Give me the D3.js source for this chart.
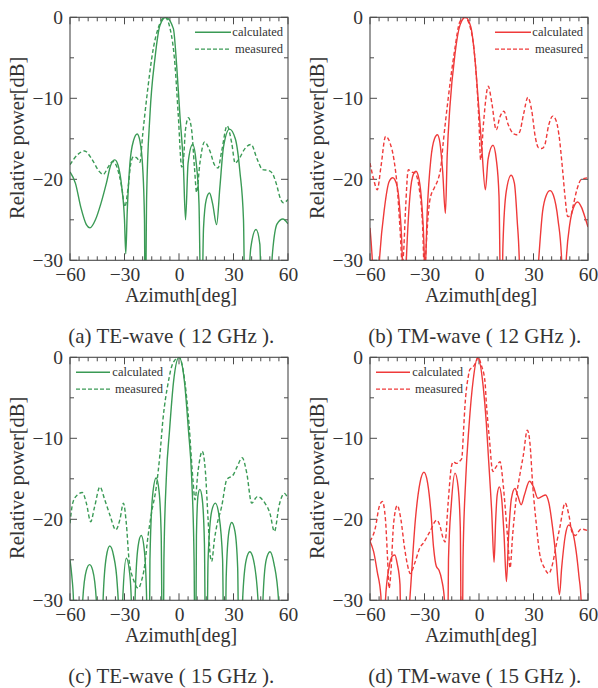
<!DOCTYPE html>
<html><head><meta charset="utf-8">
<script src="https://cdn.jsdelivr.net/npm/d3@7"></script>
<style>
body{margin:0;background:#fff;}
svg{display:block;}
text{font-family:"Liberation Serif","Times New Roman",serif;fill:#333;}
</style></head>
<body><svg id="c" width="598" height="688"></svg>
<script>
// ---- data: [azimuth deg, relative power dB] ----
const teCalc12 = [[-60,-19.1],[-57,-20.5],[-54,-23.5],[-51,-25.6],[-49,-26],[-46,-25],[-43,-23],[-40,-20.5],[-37.5,-18.2],[-35.3,-17.6],[-33.5,-18.3],[-31.5,-21],[-30,-25],[-29.3,-29.2],[-28.5,-24],[-27,-18],[-25,-15.2],[-23,-14.4],[-21.5,-15.3],[-20,-18.5],[-19,-25],[-18.6,-40],[-17.8,-22],[-16,-12.1],[-13.2,-5],[-10.5,-1],[-7.3,0],[-3.1,-1.4],[-1.3,-5.9],[0.5,-12.1],[2.4,-18.2],[3.6,-25],[5,-18],[7.5,-15.7],[9.5,-18],[11,-23],[12.3,-40],[13.5,-26],[15,-22.5],[16.8,-21.7],[18.5,-23],[20.7,-25.6],[22.5,-21],[24.5,-16],[27.8,-13.8],[31,-15],[33.5,-19],[35.5,-25],[36.5,-40],[39.5,-28.5],[42.4,-26.2],[44.5,-28],[45.8,-40],[49.5,-36],[51.5,-29],[54,-25.5],[57.2,-24.9],[60,-25.5]];
const teMeas12 = [[-60,-18.2],[-56,-17],[-52,-16.5],[-48,-17.5],[-44,-19],[-41.7,-19.4],[-39,-18.5],[-36.5,-17.8],[-34,-18.6],[-31.5,-21],[-29.8,-23.4],[-28,-21],[-26.5,-18],[-25,-17.2],[-23,-17.4],[-21.5,-17.9],[-20,-14.5],[-17.8,-10],[-14.1,-3.8],[-11.4,-1.3],[-7.7,0],[-5,-1.3],[-2.2,-5.9],[-0.4,-12.1],[1.5,-18.5],[2.5,-17.5],[3.5,-14],[5.2,-12.4],[7,-14],[8.5,-18.5],[9.7,-21.6],[11.5,-18],[14,-15.4],[17,-16.5],[19.5,-18.2],[21.5,-18.6],[23.5,-16.5],[26.5,-13.4],[29,-15.5],[30.9,-18],[33,-17.5],[36,-16.3],[39.7,-15.7],[43,-17.5],[46,-18.8],[49,-18.9],[51.2,-19.2],[53.5,-20.5],[56,-22.5],[57.5,-22.9],[60,-22.5]];
const tmCalc12 = [[-60,-26],[-58.6,-30.5],[-57,-40],[-54.8,-30],[-52,-23.5],[-49.5,-20.3],[-47.5,-19.8],[-45.5,-20.5],[-43.5,-24],[-42.2,-30],[-41.5,-40],[-40,-30],[-38,-22],[-36,-19.3],[-34.7,-19],[-33,-20],[-31.5,-23],[-30.3,-28],[-29.8,-32],[-28.5,-24],[-26.5,-17.5],[-24.5,-15],[-22.9,-14.5],[-21.5,-15.5],[-20,-19],[-18.5,-24.2],[-17.5,-17],[-16,-11],[-13.2,-4.5],[-10.5,-1],[-7.5,0],[-4.5,-1.2],[-2.5,-4.5],[-0.5,-10],[1.5,-16],[3.5,-21.3],[5,-17.5],[7.7,-15.8],[9.5,-17.5],[11,-22],[12.2,-40],[13.2,-28],[15,-21.5],[17.7,-19.5],[19.5,-20.5],[21,-25],[22.3,-31],[23,-40],[28,-45],[32.5,-31],[35,-24],[37,-22],[39.1,-21.4],[41,-22],[43.5,-25],[45.5,-30],[46.2,-40],[48,-30],[50,-25.5],[52,-23.5],[54.3,-22.8],[56.5,-23.5],[58.5,-24.8],[60,-25.9]];
const tmMeas12 = [[-60,-18],[-58,-20],[-56,-21.3],[-54,-18.5],[-51.4,-14.7],[-49,-15.5],[-46.8,-17.6],[-45,-21],[-43.5,-26],[-42.2,-30.5],[-41.5,-29],[-40.5,-24],[-38.9,-18.8],[-37,-19.1],[-35.3,-19.2],[-33,-21],[-31,-26],[-30,-32],[-29.5,-30],[-28,-24.5],[-27,-22.5],[-24.5,-21],[-22.5,-20],[-21,-18.5],[-19.7,-15.5],[-17,-10.1],[-13.3,-3.9],[-10.6,-0.6],[-7.9,0],[-4.2,-1.8],[-1.5,-7.2],[0,-13],[0.9,-17.6],[2.5,-13],[5.1,-8.5],[7,-10.5],[9.5,-13.9],[11.5,-12.3],[13.7,-11.6],[16,-13.2],[18.6,-14.3],[20.5,-14.5],[22.3,-14.2],[24.5,-12],[26.9,-9.9],[29,-11.5],[31,-14.8],[32.7,-16.1],[34.5,-16.2],[36,-15.9],[38.5,-13.2],[40.6,-12.2],[42.5,-12.8],[44,-14.5],[46,-18.8],[47.5,-22.5],[48.8,-24.6],[50.5,-24.5],[51.5,-23.6],[54,-21.2],[56.3,-20],[58,-19.9],[60,-19.8]];
const teCalc15 = [[-60,-25],[-59,-27],[-58,-30.5],[-57,-45],[-55.5,-45],[-53,-30],[-51,-26.3],[-49.2,-25.6],[-47.5,-26.3],[-45.5,-30],[-44,-45],[-43,-45],[-41.8,-30],[-40,-24.6],[-38.1,-23.3],[-36,-24.5],[-34,-28],[-33,-33],[-32.5,-45],[-32.3,-45],[-31,-30],[-29,-24.8],[-27,-27],[-26,-32],[-25.3,-45],[-25,-45],[-24.2,-30],[-22.5,-23.3],[-20.8,-22],[-19,-24],[-17.8,-30],[-17,-45],[-16.6,-45],[-16,-25],[-14.5,-17],[-12.6,-14.9],[-11,-16.5],[-9.8,-22],[-8.9,-45],[-8.3,-25],[-7,-15],[-5.2,-9],[-3,-3],[0,0],[3,-3],[5.2,-9],[7,-15],[8.3,-25],[9,-45],[9.6,-22],[10.5,-17],[11.5,-16.3],[12.8,-17.5],[14,-23],[14.9,-45],[15,-45],[16,-25],[18,-19],[20,-18],[22,-19.5],[24,-25],[25,-45],[25.1,-45],[26,-27],[27.5,-21.5],[29,-20.4],[30.8,-21.5],[32.3,-26],[33.3,-45],[33.8,-45],[35,-30],[37,-25],[39,-24],[41,-25],[43.5,-30],[44.5,-45],[45,-45],[46.2,-30],[48,-25],[50.1,-24],[52.3,-25.5],[54.8,-30],[55.8,-45],[60,-45]];
const teMeas15 = [[-60,-20.5],[-58.5,-18],[-56,-17],[-53.2,-16.7],[-51,-18],[-48.6,-20.3],[-46.5,-18.5],[-43.5,-16],[-41,-17.5],[-38,-19.5],[-34.8,-21.3],[-32.5,-20],[-30.6,-18],[-29,-20.5],[-27.5,-25],[-25,-27.5],[-22.4,-28.5],[-20.5,-27.5],[-19.3,-26.3],[-17,-22],[-15.2,-19.3],[-12.5,-16],[-10.5,-12],[-8.8,-7.6],[-6,-3.2],[-3.3,-0.7],[0,0],[3.1,-2.8],[5.5,-8.2],[7.7,-15.2],[8.8,-17.6],[10.5,-14],[12.8,-11.6],[14.5,-14],[16,-20],[17.2,-24.5],[18,-25.2],[19.5,-22.5],[20.7,-20.9],[23.5,-18.4],[26.3,-15.1],[29.9,-14.5],[32,-13.5],[34.8,-12.4],[37.3,-14.3],[40,-18],[43.1,-17.2],[47.3,-18],[50.1,-19.3],[52.5,-21.5],[55.2,-18.2],[58,-16.8],[60,-17.5]];
const tmCalc15 = [[-60,-22.7],[-58,-24],[-56,-26.5],[-54,-29.5],[-53,-45],[-51.5,-30],[-49.5,-25.9],[-47.5,-24.5],[-46.3,-24.4],[-45,-25.5],[-43.5,-28],[-42.5,-45],[-42,-45],[-39,-33],[-37.5,-28],[-35,-20],[-32.5,-15.5],[-30.3,-14.2],[-28.3,-15.5],[-26.5,-19],[-25,-23.5],[-23.5,-25.8],[-22,-26.3],[-20.5,-27.5],[-19,-30],[-18,-45],[-17.6,-45],[-16.8,-25],[-15.2,-18],[-13.2,-14.3],[-11.5,-16],[-10.3,-21],[-9.5,-45],[-8.8,-25],[-7.3,-15],[-5.5,-8.5],[-3.2,-2.8],[-0.7,0],[2.4,-3.8],[4,-8],[5.1,-12],[7,-19.1],[8.3,-25.3],[9.2,-20],[10,-17],[11.2,-16],[12.5,-17.5],[13.8,-22],[15.1,-27.7],[16.3,-22],[17.8,-17.5],[19.8,-16.2],[21.5,-17.2],[23.2,-18.2],[25,-17],[27.8,-15.3],[30,-16],[32.4,-17.4],[34.5,-17.2],[36.6,-17],[38.5,-18],[40.5,-21],[42.5,-25],[44.3,-29.3],[45.5,-26],[47.5,-22],[49.4,-20.7],[51.5,-21.5],[53.5,-24],[55,-27],[56.2,-30],[57,-45],[60,-45]];
const tmMeas15 = [[-60,-22.7],[-57,-21],[-55,-18.5],[-53.2,-17.8],[-51.5,-20],[-50.3,-25],[-49.5,-28.5],[-48.5,-26.5],[-47,-20.5],[-45,-18.3],[-43,-20],[-41,-23.5],[-39.5,-25.5],[-37.8,-26.7],[-35.5,-25.5],[-32.5,-23.5],[-30.5,-22.9],[-27,-21.5],[-23.3,-20.1],[-21.5,-20.8],[-19.8,-22.3],[-18.7,-22.8],[-17,-18],[-15.2,-13.5],[-14.1,-12.9],[-12.4,-13.1],[-10.5,-12.8],[-9.5,-12.5],[-8.5,-9],[-7.7,-5.9],[-6,-2.5],[-5,-1.5],[-3.3,-1.2],[-1.5,-0.5],[-0.5,0],[1.3,-1],[3.3,-3],[4,-5.5],[5.7,-10],[7.6,-14.1],[9.5,-13.5],[11.6,-12.9],[13,-15],[14.3,-18.2],[16,-23],[17.1,-26],[18.5,-22],[20.7,-17],[22.5,-14.5],[24.4,-12.1],[26.6,-9],[28,-10.5],[29.6,-15.9],[31.5,-20.5],[33.3,-24.1],[36,-26],[38.4,-26.7],[40.5,-25.5],[42.4,-23.3],[44.5,-21],[47.4,-18],[49.5,-19.5],[51.2,-21.6],[53,-22],[56.2,-21.2],[60,-21.4]];

const xTicks = [-60,-30,0,30,60];
const yTicks = [0,-10,-20,-30];
const legendLabels = ["calculated","measured"];
const captions = ["(a) TE-wave ( 12 GHz ).","(b) TM-wave ( 12 GHz ).","(c) TE-wave ( 15 GHz ).","(d) TM-wave ( 15 GHz )."];
const xTitle = "Azimuth[deg]";
const yTitle = "Relative power[dB]";

const GREEN = "#3a9a55", RED = "#ef3a3a";
const panels = [
  {x:70, y:17.3, calc:teCalc12, meas:teMeas12, color:GREEN, legend:"tr", cap:captions[0]},
  {x:370, y:17.3, calc:tmCalc12, meas:tmMeas12, color:RED, legend:"tr", cap:captions[1]},
  {x:70, y:357.3, calc:teCalc15, meas:teMeas15, color:GREEN, legend:"tl", cap:captions[2]},
  {x:370, y:357.3, calc:tmCalc15, meas:tmMeas15, color:RED, legend:"tl", cap:captions[3]}
];
const W = 218, H = 243;
const svg = d3.select("#c");
const AX = "#4a4a4a";

panels.forEach((p,i)=>{
  const g = svg.append("g").attr("transform",`translate(${p.x},${p.y})`);
  const x = d3.scaleLinear().domain([-60,60]).range([0,W]);
  const y = d3.scaleLinear().domain([-30,0]).range([H,0]);
  const cid = "clip"+i;
  g.append("clipPath").attr("id",cid).append("rect").attr("width",W).attr("height",H);

  // ticks (inward, all four sides)
  const xMinor = d3.range(-60,61,5), yMinor = d3.range(-30,1,5);
  const tk = g.append("g").attr("stroke",AX).attr("stroke-width",1);
  xMinor.forEach(v=>{
    const L = (v%30===0)?7:4;
    tk.append("line").attr("x1",x(v)).attr("x2",x(v)).attr("y1",H).attr("y2",H-L);
    tk.append("line").attr("x1",x(v)).attr("x2",x(v)).attr("y1",0).attr("y2",L);
  });
  yMinor.forEach(v=>{
    const L = (v%10===0)?7:4;
    tk.append("line").attr("y1",y(v)).attr("y2",y(v)).attr("x1",0).attr("x2",L);
    tk.append("line").attr("y1",y(v)).attr("y2",y(v)).attr("x1",W).attr("x2",W-L);
  });

  // axes labels via d3 axes (tick size 0, domain hidden)
  const xa = g.append("g").attr("transform",`translate(0,${H})`)
    .call(d3.axisBottom(x).tickValues(xTicks).tickSize(0).tickPadding(0).tickFormat(d3.format("d")));
  xa.select(".domain").remove();
  xa.selectAll("text").attr("y",20.5).attr("dy",null)
    .style("font-family","Liberation Serif, serif").style("font-size","19.5px").attr("fill","#333");
  const ya = g.append("g")
    .call(d3.axisLeft(y).tickValues(yTicks).tickSize(0).tickPadding(7).tickFormat(d3.format("d")));
  ya.select(".domain").remove();
  ya.selectAll("text").attr("dy","0.34em")
    .style("font-family","Liberation Serif, serif").style("font-size","19.5px").attr("fill","#333");

  // titles
  g.append("text").attr("x",W/2+2).attr("y",H+41.5).attr("text-anchor","middle")
    .style("font-size","20px").text(xTitle);
  g.append("text").attr("transform",`translate(${-46},${H/2-1}) rotate(-90)`)
    .attr("text-anchor","middle").style("font-size","20.5px").text(yTitle);

  // lines
  const line = d3.line().x(d=>x(d[0])).y(d=>y(d[1])).curve(d3.curveMonotoneX);
  const lg = g.append("g").attr("clip-path",`url(#${cid})`);
  lg.append("path").datum(p.meas).attr("d",line).attr("fill","none")
    .attr("stroke",p.color).attr("stroke-width",1.4).attr("stroke-dasharray","4,2.5");
  lg.append("path").datum(p.calc).attr("d",line).attr("fill","none")
    .attr("stroke",p.color).attr("stroke-width",1.4);

  // frame
  g.append("rect").attr("width",W).attr("height",H).attr("fill","none")
    .attr("stroke",AX).attr("stroke-width",1.1);

  // legend
  let lx0, lx1, tx;
  if(p.legend==="tr"){ lx0=125; lx1=161; tx=213; } else { lx0=6; lx1=40; tx=93; }
  [0,1].forEach(k=>{
    const ly = 15 + k*16.8;
    g.append("line").attr("x1",lx0).attr("x2",lx1).attr("y1",ly).attr("y2",ly)
      .attr("stroke",p.color).attr("stroke-width",1.4)
      .attr("stroke-dasharray",k===1?"4,2":null);
    g.append("text").attr("x",tx).attr("y",ly+4).attr("text-anchor","end")
      .style("font-size","12.5px").text(legendLabels[k]);
  });

  // caption
  svg.append("text").attr("x",p.x-1.7).attr("y",p.y+326)
    .style("font-size","21px").attr("fill","#222").text(p.cap);
});
</script></body></html>
